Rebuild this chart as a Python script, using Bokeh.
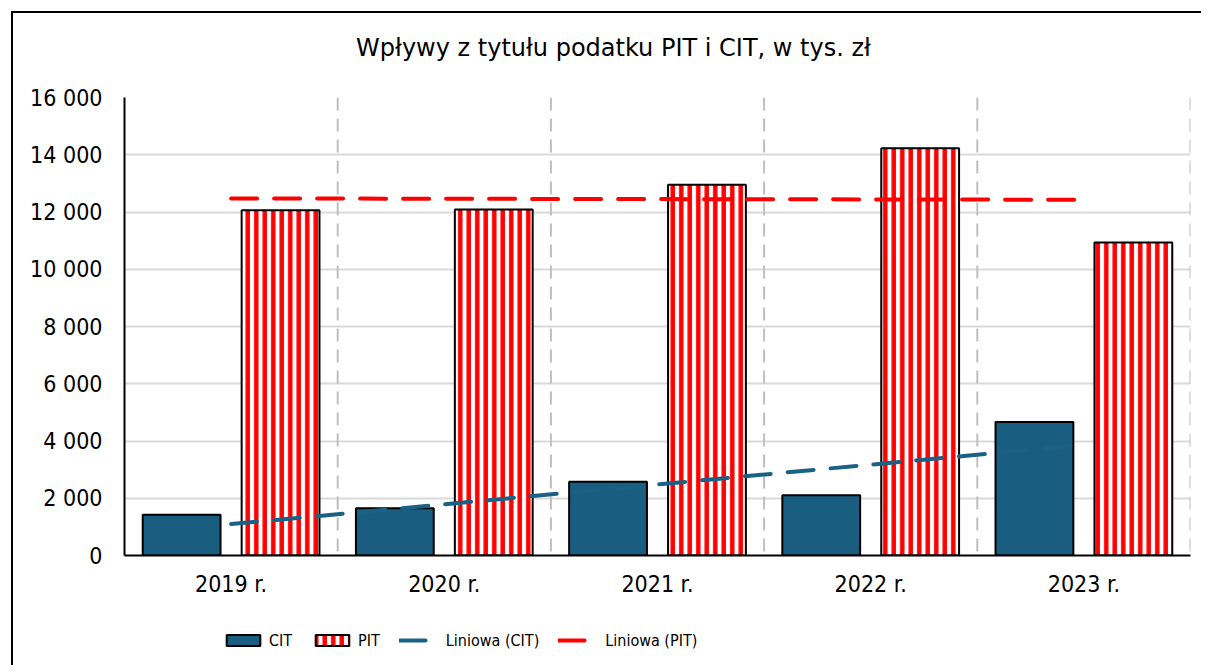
import numpy as np
from bokeh.plotting import figure
from bokeh.layouts import column
from bokeh.models import (FactorRange, Range1d, ColumnDataSource, Span, Label,
                          Legend, LegendItem, FixedTicker)
from bokeh.transform import dodge
from bokeh.embed import file_html
from bokeh.resources import INLINE

# ---------------- data ----------------
years = ["2019 r.", "2020 r.", "2021 r.", "2022 r.", "2023 r."]
cit = [1424, 1647, 2576, 2101, 4660]
pit = [12060, 12084, 12956, 14223, 10932]
y_ticks = [0, 2000, 4000, 6000, 8000, 10000, 12000, 14000, 16000]
y_tick_labels = ["0", "2 000", "4 000", "6 000", "8 000", "10 000",
                 "12 000", "14 000", "16 000"]
title_text = "Wpływy z tytułu podatku PIT i CIT, w tys. zł"
series_names = ["CIT", "PIT", "Liniowa (CIT)", "Liniowa (PIT)"]


def linear_trend(vals):
    xs = np.arange(len(vals))
    slope, intercept = np.polyfit(xs, vals, 1)
    return list(intercept + slope * xs)


cit_trend = linear_trend(cit)
pit_trend = linear_trend(pit)

CIT_COLOR = "#195E80"
CIT_LINE = "#1A6285"
PIT_COLOR = "#FF0000"
TICK_FONT = "DejaVu Sans Condensed"
W = 1188

bar_style_cit = dict(fill_color=CIT_COLOR, line_color="black", line_width=2)
bar_style_pit = dict(fill_color="white", hatch_pattern="vertical_line",
                     hatch_color=PIT_COLOR, hatch_scale=8.5, hatch_weight=4.5,
                     line_color="black", line_width=2)
line_style_cit = dict(line_color=CIT_LINE, line_width=4, line_dash="26 17",
                      line_cap="round")
line_style_pit = dict(line_color=PIT_COLOR, line_width=4, line_dash="26 17",
                      line_cap="round")

src = ColumnDataSource(dict(year=years, cit=cit, pit=pit,
                            cit_trend=cit_trend, pit_trend=pit_trend))
x_range = FactorRange(*years, range_padding=0)


def strip(height, xr, yr):
    f = figure(width=W, height=height, x_range=xr, y_range=yr,
               output_backend="svg", toolbar_location=None,
               x_axis_type=None, y_axis_type=None, min_border=0)
    f.outline_line_color = None
    f.background_fill_color = "white"
    f.border_fill_color = "white"
    f.xgrid.visible = False
    f.ygrid.visible = False
    return f


def draw_series(f, xr):
    rc = f.vbar(x=dodge("year", -0.232, range=xr), top="cit", width=0.365,
                source=src, **bar_style_cit)
    rp = f.vbar(x=dodge("year", 0.232, range=xr), top="pit", width=0.365,
                source=src, **bar_style_pit)
    tc = f.line(x="year", y="cit_trend", source=src, **line_style_cit)
    tp = f.line(x="year", y="pit_trend", source=src, **line_style_pit)
    return [rc, rp, tc, tp]


# ---------------- title strip ----------------
p_title = strip(70, Range1d(0, 1), Range1d(0, 1))
p_title.add_layout(Label(x=489, y=36, x_units="screen", y_units="screen",
                         text=title_text, text_align="center",
                         text_baseline="alphabetic", text_font="DejaVu Sans",
                         text_font_size="24px", text_color="black"))

# ---------------- main chart ----------------
p = figure(x_range=x_range, y_range=Range1d(0, 16000),
           width=W, height=532, output_backend="svg", toolbar_location=None,
           min_border_left=111, min_border_right=11,
           min_border_top=14, min_border_bottom=60)
p.outline_line_color = None
p.background_fill_color = "white"
p.border_fill_color = "white"

p.xgrid.grid_line_color = None
p.ygrid.ticker = FixedTicker(ticks=y_ticks)
p.ygrid.grid_line_color = "#D9D9D9"
p.ygrid.grid_line_width = 2

for i in range(1, len(years) + 1):
    p.add_layout(Span(location=i, dimension="height", line_color="#BFBFBF",
                      line_width=2, line_dash="13 8", level="underlay"))

p.yaxis.ticker = FixedTicker(ticks=y_ticks)
p.yaxis.major_label_overrides = {t: l for t, l in zip(y_ticks, y_tick_labels)}
for ax in (p.xaxis[0], p.yaxis[0]):
    ax.axis_line_color = "black"
    ax.axis_line_width = 2
    ax.major_tick_line_color = None
    ax.minor_tick_line_color = None
    ax.major_tick_in = 0
    ax.major_tick_out = 0
    ax.major_label_text_font = TICK_FONT
    ax.major_label_text_font_size = "23px"
    ax.major_label_text_color = "black"
p.yaxis.major_label_standoff = 22
p.xaxis.major_label_standoff = 15

draw_series(p, x_range)

# ---------------- legend strip ----------------
# the legend strip maps only the series names, so the year-based series
# drawn here produce no visible marks and serve purely as legend glyphs
leg_x = FactorRange(*series_names)
p_leg = strip(50, leg_x, Range1d(0, 16000))
leg_r = draw_series(p_leg, leg_x)
legend = Legend(items=[LegendItem(label=n, renderers=[r])
                       for n, r in zip(series_names, leg_r)],
                orientation="horizontal", location=(98, 15),
                glyph_width=42, glyph_height=14, label_standoff=5, spacing=19,
                padding=0, margin=0, border_line_color=None,
                background_fill_alpha=0, label_height=20,
                label_text_font=TICK_FONT,
                label_text_font_size="16px", label_text_color="black")
p_leg.add_layout(legend)

layout = column(p_title, p, p_leg, spacing=0,
                styles={"border-left": "2px solid black",
                        "border-top": "2px solid black",
                        "margin-left": "11px", "margin-top": "11px"})

open("out.html", "w").write(file_html(layout, INLINE))
